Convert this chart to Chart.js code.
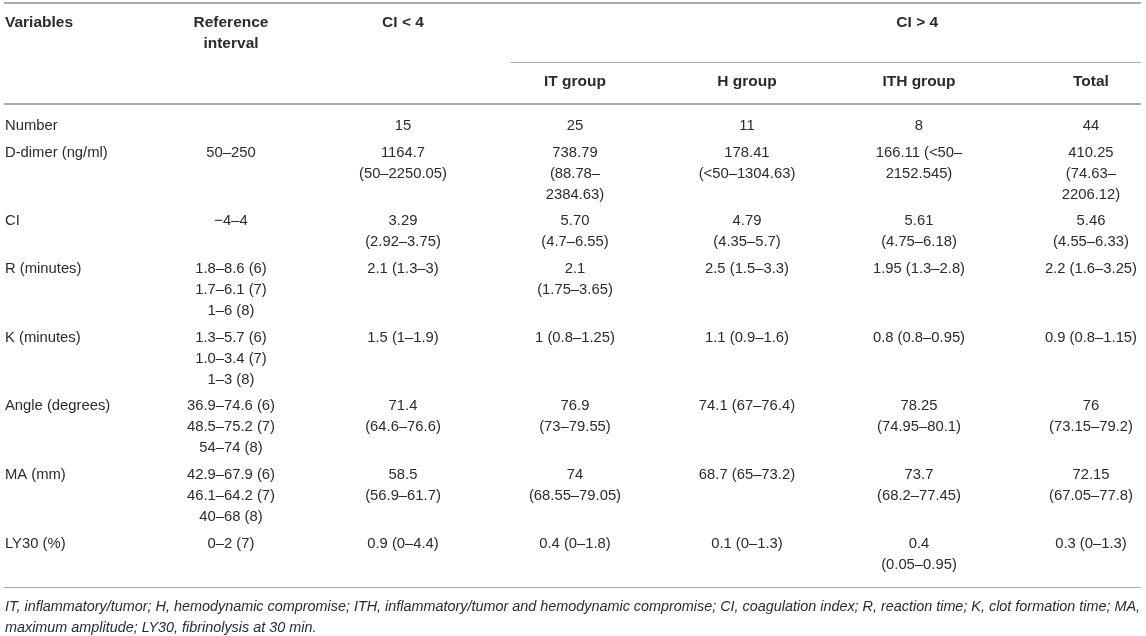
<!DOCTYPE html>
<html>
<head>
<meta charset="utf-8">
<script src="https://cdn.jsdelivr.net/npm/chart.js@4.4.1/dist/chart.umd.min.js"></script>
<style>
  html, body { margin: 0; padding: 0; background: #fff; }
  #wrap { width: 1146px; height: 636px; position: relative; }
</style>
</head>
<body>
<div id="wrap"><canvas id="table"></canvas></div>
<script>
// table content, one array per column; "\n" = line break inside a cell
const variables = ['Number', 'D-dimer (ng/ml)', 'CI', 'R (minutes)', 'K (minutes)',
    'Angle (degrees)', 'MA (mm)', 'LY30 (%)'];
const referenceInterval = ['', '50–250', '−4–4',
    '1.8–8.6 (6)\n1.7–6.1 (7)\n1–6 (8)',
    '1.3–5.7 (6)\n1.0–3.4 (7)\n1–3 (8)',
    '36.9–74.6 (6)\n48.5–75.2 (7)\n54–74 (8)',
    '42.9–67.9 (6)\n46.1–64.2 (7)\n40–68 (8)',
    '0–2 (7)'];
const ciBelow4 = ['15', '1164.7\n(50–2250.05)', '3.29\n(2.92–3.75)', '2.1 (1.3–3)',
    '1.5 (1–1.9)', '71.4\n(64.6–76.6)', '58.5\n(56.9–61.7)', '0.9 (0–4.4)'];
const itGroup = ['25', '738.79\n(88.78–\n2384.63)', '5.70\n(4.7–6.55)', '2.1\n(1.75–3.65)',
    '1 (0.8–1.25)', '76.9\n(73–79.55)', '74\n(68.55–79.05)', '0.4 (0–1.8)'];
const hGroup = ['11', '178.41\n(<50–1304.63)', '4.79\n(4.35–5.7)', '2.5 (1.5–3.3)',
    '1.1 (0.9–1.6)', '74.1 (67–76.4)', '68.7 (65–73.2)', '0.1 (0–1.3)'];
const ithGroup = ['8', '166.11 (<50–\n2152.545)', '5.61\n(4.75–6.18)', '1.95 (1.3–2.8)',
    '0.8 (0.8–0.95)', '78.25\n(74.95–80.1)', '73.7\n(68.2–77.45)', '0.4\n(0.05–0.95)'];
const totalGroup = ['44', '410.25\n(74.63–\n2206.12)', '5.46\n(4.55–6.33)', '2.2 (1.6–3.25)',
    '0.9 (0.8–1.15)', '76\n(73.15–79.2)', '72.15\n(67.05–77.8)', '0.3 (0–1.3)'];

const headers = ['Variables', 'Reference\ninterval', 'CI < 4', 'IT group', 'H group', 'ITH group', 'Total'];
const spanHeader = 'CI > 4';
const footnote = [
    'IT, inflammatory/tumor; H, hemodynamic compromise; ITH, inflammatory/tumor and hemodynamic compromise; CI, coagulation index; R, reaction time; K, clot formation time; MA,',
    'maximum amplitude; LY30, fibrinolysis at 30 min.'
];

const valueColumns = [referenceInterval, ciBelow4, itGroup, hGroup, ithGroup, totalGroup];

// layout in scale units (x: column index, y: vertical position)
const labelX = -1.314;
const lineH = 21.1;
const rowGap = 26.5;
const firstRowY = 126;
const FONT = '"Liberation Sans", Arial, sans-serif';
const textColor = '#2b2b2b';

// vertical position of each row from its line count
const rowY = [];
let y = firstRowY;
variables.forEach((v, r) => {
    rowY.push(y);
    const n = Math.max(...valueColumns.map(c => c[r].split('\n').length), 1);
    y += (n - 1) * lineH + rowGap;
});

function cellPoints(texts, x, align) {
    return texts.map((t, r) => ({ x: x, y: rowY[r], text: t, align: align }));
}

const headerPoints = [{ x: labelX, y: 23, text: headers[0], align: 'left' }]
    .concat(headers.slice(1, 3).map((t, i) => ({ x: i, y: 23, text: t, align: 'center' })))
    .concat(headers.slice(3).map((t, i) => ({ x: i + 2, y: 82, text: t, align: 'center' })))
    .concat([{ x: 3.99, y: 23, text: spanHeader, align: 'center' }]);

const datasets = [{
    label: 'header', data: headerPoints, bold: true
}, {
    label: 'variables', data: cellPoints(variables, labelX, 'left')
}].concat(valueColumns.map((col, i) => ({
    label: headers[i + 1], data: cellPoints(col, i, 'center')
})));
datasets.push({
    label: 'footnote', italic: true,
    data: footnote.map((t, i) => ({ x: labelX, y: 607 + i * 21, text: t, align: 'left' }))
});
datasets.forEach(d => { d.pointRadius = 0; d.showLine = false; });

// horizontal rules: [y, x from, x to, width]
const rules = [
    [3, -1.32, 5.29, 2],
    [62, 1.628, 5.29, 1.2],
    [104, -1.32, 5.29, 2],
    [587, -1.32, 5.29, 1.2]
];

const tablePlugin = {
    id: 'tableText',
    afterDatasetsDraw(chart) {
        const ctx = chart.ctx;
        const xs = chart.scales.x, ys = chart.scales.y;
        ctx.save();
        ctx.strokeStyle = '#a9a9a9';
        rules.forEach(([ry, x0, x1, w]) => {
            const py = Math.round(ys.getPixelForValue(ry)) + (w % 2 ? 0.5 : 0);
            ctx.lineWidth = w;
            ctx.beginPath();
            ctx.moveTo(xs.getPixelForValue(x0), py);
            ctx.lineTo(xs.getPixelForValue(x1), py);
            ctx.stroke();
        });
        ctx.fillStyle = textColor;
        ctx.textBaseline = 'middle';
        chart.data.datasets.forEach((ds, di) => {
            const meta = chart.getDatasetMeta(di);
            if (ds.bold) ctx.font = 'bold 15.5px ' + FONT;
            else if (ds.italic) ctx.font = 'italic 14.4px ' + FONT;
            else ctx.font = '14.8px ' + FONT;
            meta.data.forEach((pt, i) => {
                const p = ds.data[i];
                ctx.textAlign = p.align;
                p.text.split('\n').forEach((line, li) => {
                    ctx.fillText(line, pt.x, pt.y + li * lineH);
                });
            });
        });
        ctx.restore();
    }
};

new Chart(document.getElementById('table'), {
    type: 'scatter',
    data: { datasets: datasets },
    options: {
        responsive: true,
        maintainAspectRatio: false,
        animation: false,
        layout: { padding: 0 },
        plugins: { legend: { display: false }, tooltip: { enabled: false } },
        scales: {
            x: { type: 'linear', min: -1.343, max: 5.32, display: false },
            y: { type: 'linear', min: 0, max: 636, reverse: true, display: false }
        }
    },
    plugins: [tablePlugin]
});
</script>
</body>
</html>
